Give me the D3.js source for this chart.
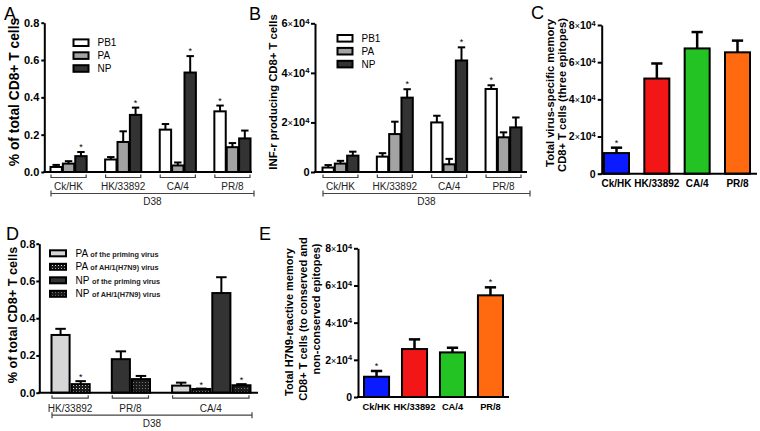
<!DOCTYPE html>
<html><head><meta charset="utf-8">
<script src="https://cdn.jsdelivr.net/npm/d3@7"></script>
<style>body{margin:0;background:#fff} svg{display:block} text{font-family:Arial,"Liberation Sans",Helvetica,sans-serif}</style>
</head><body><svg id="c" width="760" height="431"></svg>
<script>
const FONT='Arial, "Liberation Sans", Helvetica, sans-serif';
// ---------- Panel A ----------
const groupsA=["Ck/HK","HK/33892","CA/4","PR/8"];
const seriesA=["PB1","PA","NP"];
const aPB1=[0.027,0.067,0.227,0.325];
const aPB1Err=[0.038,0.080,0.257,0.356];
const aPA=[0.045,0.161,0.035,0.133];
const aPAErr=[0.058,0.218,0.051,0.155];
const aNP=[0.085,0.306,0.533,0.180];
const aNPErr=[0.107,0.345,0.621,0.222];
const aStars=["NP","NP","NP","PB1"];
const ticksA=[0,0.2,0.4,0.6,0.8];
// ---------- Panel B ----------
const groupsB=["Ck/HK","HK/33892","CA/4","PR/8"];
const seriesB=["PB1","PA","NP"];
const bPB1=[1800,6200,20000,33500];
const bPB1Err=[2800,7600,22700,35000];
const bPA=[3400,15300,3100,14000];
const bPAErr=[4500,20300,5300,16000];
const bNP=[6600,30000,45000,18000];
const bNPErr=[8200,33400,50300,22000];
const bStars=[null,"NP","NP","PB1"];
const ticksB=[0,20000,40000,60000];
// ---------- Panel C ----------
const catsC=["Ck/HK","HK/33892","CA/4","PR/8"];
const cVals=[11100,51200,67400,65300];
const cErr=[14000,59300,76200,71600];
const cStars=[true,false,false,false];
const ticksC=[0,20000,40000,60000,80000];
// ---------- Panel D ----------
const groupsD=["HK/33892","PR/8","CA/4"];
const dSlots=["HK/33892|0","HK/33892|1","gap1","PR/8|0","PR/8|1","gap2","CA/4|0","CA/4|1","CA/4|2","CA/4|3"];
const dBarSlot=["HK/33892|0","HK/33892|1","PR/8|0","PR/8|1","CA/4|0","CA/4|1","CA/4|2","CA/4|3"];
const dBarSeries=[0,1,2,3,0,1,2,3];
const dVals=[0.31,0.046,0.18,0.073,0.038,0.02,0.535,0.04];
const dErr=[0.343,0.062,0.222,0.09,0.054,0.022,0.62,0.046];
const dStars=[false,true,false,false,false,true,false,true];
const legendDBig=["PA","PA","NP","NP"];
const legendDSmall=["of the priming virus","of AH/1(H7N9) virus","of the priming virus","of AH/1(H7N9) virus"];
const ticksD=[0,0.2,0.4,0.6,0.8];
// ---------- Panel E ----------
const catsE=["Ck/HK","HK/33892","CA/4","PR/8"];
const eVals=[10900,25800,24000,54700];
const eErr=[14000,31000,26500,59000];
const eStars=[true,false,false,true];
const ticksE=[0,20000,40000,60000,80000];
const barColors=["#0a1bff","#f21616","#22c322","#ff6a10"];

const svg=d3.select("#c");
const defs=svg.append("defs");
function mkPat(id,bg,dot){
  const p=defs.append("pattern").attr("id",id).attr("width",3).attr("height",3).attr("patternUnits","userSpaceOnUse");
  p.append("rect").attr("width",3).attr("height",3).attr("fill",bg);
  p.append("rect").attr("x",1).attr("y",1).attr("width",1).attr("height",1).attr("fill",dot);
}
mkPat("patPA","#1a1a1a","#d8d8d8");
mkPat("patNP","#1a1a1a","#777");
const fillsD=["#d6d6d6","url(#patPA)","#333333","url(#patNP)"];

function sciFmt(sel,fs){
  sel.selectAll(".tick text").each(function(d){
    const t=d3.select(this);
    t.text(null);
    if(d===0){t.text("0");return;}
    t.append("tspan").text(d/1e4);
    t.append("tspan").attr("font-weight","normal").attr("font-size",fs*0.85).text("×");
    t.append("tspan").text("10");
    t.append("tspan").attr("dy","-0.45em").attr("font-size",fs*0.7).text("4");
  });
}
function yAxis(g,y,ax,ticks,o){
  const a=g.append("g").attr("transform",`translate(${ax},0)`)
    .call(d3.axisLeft(y).tickValues(ticks).tickSize(o.ts).tickPadding(o.tp).tickSizeOuter(0)
      .tickFormat(o.fmt||(d=>d3.format(".1f")(d))));
  a.attr("font-family",FONT).attr("font-size",o.fs).attr("font-weight","bold");
  a.select(".domain").attr("stroke-width",2).attr("stroke","#000");
  a.selectAll(".tick line").attr("stroke-width",2);
  a.selectAll(".tick text").attr("fill","#000");
  if(o.sci) sciFmt(a,o.fs);
  return a;
}
function yLabel(lines,xs,ys,fs,bold){
  lines.forEach((t,i)=>{
    svg.append("text").attr("transform",`translate(${xs[i]},${ys[i]}) rotate(-90)`)
      .attr("text-anchor","middle").attr("dy","0.35em").attr("font-size",fs[i])
      .attr("font-weight",bold?"bold":"normal").text(t);
  });
}
function letter(t,x,y){svg.append("text").attr("x",x).attr("y",y).attr("font-size",18).text(t);}
function errBar(g,cx,y1,y2,cw,sw){
  g.append("line").attr("x1",cx).attr("x2",cx).attr("y1",y1).attr("y2",y2).attr("stroke","#000").attr("stroke-width",sw);
  g.append("line").attr("x1",cx-cw/2).attr("x2",cx+cw/2).attr("y1",y2).attr("y2",y2).attr("stroke","#000").attr("stroke-width",sw);
}
function star(g,cx,yv){g.append("text").attr("x",cx).attr("y",yv+4).attr("text-anchor","middle").attr("font-size",9).text("*");}
function bracket(g,x1,x2,yb,label,ly){
  g.append("path").attr("d",`M${x1},${yb-3}V${yb}H${x2}V${yb-3}`).attr("fill","none").attr("stroke","#444").attr("stroke-width",1.2);
  g.append("text").attr("x",(x1+x2)/2).attr("y",ly).attr("text-anchor","middle").attr("font-size",10).attr("fill","#222").text(label);
}
function d38(g,x1,x2,yb,ty){
  g.append("path").attr("d",`M${x1},${yb-3}V${yb+3}M${x1},${yb}H${x2}M${x2},${yb-3}V${yb+3}`).attr("fill","none").attr("stroke","#444").attr("stroke-width",1.2);
  g.append("text").attr("x",(x1+x2)/2).attr("y",ty).attr("text-anchor","middle").attr("font-size",10).attr("fill","#222").text("D38");
}

// ---------- grouped panels A/B ----------
function grouped(cfg){
  const g=svg.append("g");
  const x=d3.scaleBand().domain(cfg.groups).range(cfg.xr).paddingInner(0.32);
  const xs=d3.scaleBand().domain(cfg.series).range([0,x.bandwidth()]);
  const y=d3.scaleLinear().domain([0,cfg.ymax]).range(cfg.yr);
  const fills=["#ffffff","#a3a3a3","#333333"];
  cfg.series.forEach((s,si)=>{
    cfg.groups.forEach((grp,gi)=>{
      const bx=x(grp)+xs(s), bw=xs.bandwidth(), cx=bx+bw/2;
      const v=cfg.vals[si][gi], e=cfg.errs[si][gi];
      errBar(g,cx,y(v),y(e),bw*0.6,2);
      g.append("rect").attr("x",bx+0.5).attr("y",y(v)).attr("width",bw-1).attr("height",y(0)-y(v))
        .attr("fill",fills[si]).attr("stroke","#000").attr("stroke-width",2);
      if(cfg.stars[gi]===s) star(g,cx,y(e)-6);
    });
  });
  yAxis(g,y,cfg.ax,cfg.ticks,cfg.axo);
  g.append("line").attr("x1",cfg.ax-1).attr("x2",cfg.xEnd).attr("y1",y(0)).attr("y2",y(0)).attr("stroke","#000").attr("stroke-width",2);
  cfg.groups.forEach(grp=>bracket(g,x(grp)+1,x(grp)+x.bandwidth()-1,y(0)+5.5,grp,y(0)+18));
  d38(g,x(cfg.groups[0])+1,cfg.d38End,y(0)+21.5,y(0)+33);
  // legend
  cfg.series.forEach((s,si)=>{
    const ly=cfg.leg[1]+si*12.9;
    g.append("rect").attr("x",cfg.leg[0]).attr("y",ly-3.3).attr("width",15).attr("height",6.6)
      .attr("fill",fills[si]).attr("stroke","#000").attr("stroke-width",2);
    g.append("text").attr("x",cfg.leg[0]+24).attr("y",ly).attr("dy","0.35em").attr("font-size",10).text(s);
  });
}
grouped({groups:groupsA,series:seriesA,vals:[aPB1,aPA,aNP],errs:[aPB1Err,aPAErr,aNPErr],stars:aStars,
  xr:[50,251],ymax:0.8,yr:[172,22.7],ax:44.3,ticks:ticksA,axo:{ts:3,tp:2,fs:11},xEnd:252,d38End:254,leg:[73.5,42.7]});
grouped({groups:groupsB,series:seriesB,vals:[bPB1,bPA,bNP],errs:[bPB1Err,bPAErr,bNPErr],stars:bStars,
  xr:[322,522],ymax:60000,yr:[172,23.3],ax:315,ticks:ticksB,axo:{ts:4,tp:1.5,fs:11,sci:true,fmt:d=>d},xEnd:527,d38End:530,leg:[337.5,38.3]});

// ---------- simple panels C/E ----------
function simple(cfg){
  const g=svg.append("g");
  const x=d3.scaleBand().domain(cfg.cats).range(cfg.xr).paddingInner(cfg.pad);
  const y=d3.scaleLinear().domain([0,80000]).range(cfg.yr);
  cfg.cats.forEach((c,i)=>{
    const bx=x(c), bw=x.bandwidth(), cx=bx+bw/2;
    errBar(g,cx,y(cfg.vals[i]),y(cfg.errs[i]),bw*0.45,2.5);
    g.append("rect").attr("x",bx).attr("y",y(cfg.vals[i])).attr("width",bw).attr("height",y(0)-y(cfg.vals[i]))
      .attr("fill",barColors[i]).attr("stroke","#000").attr("stroke-width",2);
    if(cfg.stars[i]) star(g,cx,y(cfg.errs[i])-6);
    g.append("text").attr("x",cx).attr("y",y(0)+13).attr("text-anchor","middle").attr("font-size",cfg.cfs).attr("font-weight","bold").text(c);
  });
  yAxis(g,y,cfg.ax,cfg.ticks,{ts:4,tp:2,fs:10.5,sci:true,fmt:d=>d});
  g.append("line").attr("x1",cfg.ax-1).attr("x2",cfg.xEnd).attr("y1",y(0)).attr("y2",y(0)).attr("stroke","#000").attr("stroke-width",2);
}
simple({cats:catsC,vals:cVals,errs:cErr,stars:cStars,xr:[604,750],pad:0.38,yr:[173.7,25],ax:601.7,ticks:ticksC,xEnd:757,cfs:10});
simple({cats:catsE,vals:eVals,errs:eErr,stars:eStars,xr:[364,503],pad:0.34,yr:[397,248.3],ax:358,ticks:ticksE,xEnd:509,cfs:9.3});

// ---------- Panel D ----------
(function(){
  const g=svg.append("g");
  const x=d3.scaleBand().domain(dSlots).range([51,252]).paddingInner(0);
  const y=d3.scaleLinear().domain([0,0.8]).range([392.7,243.7]);
  dBarSlot.forEach((s,i)=>{
    const bx=x(s), bw=x.bandwidth()-1, cx=bx+bw/2;
    errBar(g,cx,y(dVals[i]),y(dErr[i]),bw*0.55,2);
    g.append("rect").attr("x",bx+0.5).attr("y",y(dVals[i])).attr("width",bw-1).attr("height",y(0)-y(dVals[i]))
      .attr("fill",fillsD[dBarSeries[i]]).attr("stroke","#000").attr("stroke-width",2);
    if(dStars[i]) star(g,cx,y(dErr[i])-5);
  });
  yAxis(g,y,39.3,ticksD,{ts:3,tp:1,fs:11});
  g.append("line").attr("x1",38.3).attr("x2",258).attr("y1",y(0)).attr("y2",y(0)).attr("stroke","#000").attr("stroke-width",2);
  groupsD.forEach(grp=>{
    const sl=dSlots.filter(s=>s.startsWith(grp+"|"));
    bracket(g,x(sl[0])+1,x(sl[sl.length-1])+x.bandwidth()-3,y(0)+5.5,grp,y(0)+19);
  });
  d38(g,52,252,y(0)+22.5,y(0)+34);
  legendDBig.forEach((b,i)=>{
    const ly=253.3+i*13.5;
    g.append("rect").attr("x",50).attr("y",ly-3).attr("width",16).attr("height",6)
      .attr("fill",fillsD[i]).attr("stroke","#000").attr("stroke-width",2);
    const t=g.append("text").attr("x",75.5).attr("y",ly).attr("dy","0.35em").attr("font-size",10);
    t.append("tspan").text(b+" ");
    t.append("tspan").attr("font-size",7.3).attr("font-weight","bold").attr("fill","#222").text(legendDSmall[i]);
  });
})();

// ---------- labels ----------
letter("A",4,20); letter("B",249,20); letter("C",531,19); letter("D",6,240); letter("E",259,240);
yLabel(["% of total CD8+ T cells"],[14],[92],[13.8],true);
yLabel(["INF-r producing CD8+ T cells"],[273],[92],[11.3],true);
yLabel(["Total virus-specific memory","CD8+ T cells (three epitopes)"],[550.5,562.5],[93,95],[11.2,11.2],true);
yLabel(["% of total CD8+ T cells"],[13],[315],[12.7],true);
yLabel(["Total H7N9-reactive memory","CD8+ T cells  (to conserved and","non-conserved epitopes)"],[289,303.5,316.5],[322,319,309],[11,11,11],true);
</script></body></html>
